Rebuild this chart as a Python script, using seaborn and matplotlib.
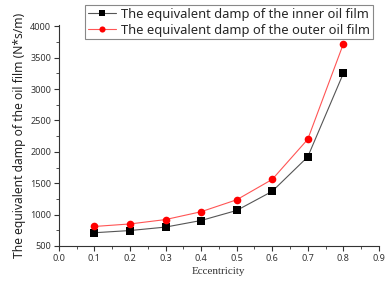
import matplotlib
matplotlib.use('Agg')
import matplotlib.pyplot as plt
from matplotlib.ticker import MultipleLocator
import seaborn as sns
import pandas as pd

# 数据
eccentricity = [0.1, 0.2, 0.3, 0.4, 0.5, 0.6, 0.7, 0.8]
inner_damp = [710, 745, 800, 905, 1065, 1370, 1920, 3250]
outer_damp = [810, 850, 920, 1045, 1235, 1560, 2200, 3720]
inner_name = 'The equivalent damp of the inner oil film'
outer_name = 'The equivalent damp of the outer oil film'

df = pd.DataFrame({
    'Eccentricity': eccentricity * 2,
    'damp': inner_damp + outer_damp,
    'series': [inner_name] * len(eccentricity) + [outer_name] * len(eccentricity),
})

sns.set_style('ticks')
plt.rcParams['font.family'] = ['Noto Sans', 'DejaVu Sans']

fig = plt.figure(figsize=(3.87, 2.82), dpi=100)
ax = fig.add_axes([0.152, 0.128, 0.827, 0.785])

sns.lineplot(data=df, x='Eccentricity', y='damp', hue='series', style='series',
             palette={inner_name: '#000000', outer_name: '#ff0000'},
             markers={inner_name: 's', outer_name: 'o'}, dashes=False,
             markersize=5.5, markeredgewidth=0, linewidth=0.8, ax=ax)
# 线条颜色稍浅
for line, c in zip(ax.lines[:2], ['#555555', '#ff5555']):
    line.set_color(c)
    line.set_markerfacecolor('#000000' if c == '#555555' else '#ff0000')

ax.set_xlim(0, 0.9)
ax.set_ylim(500, 4030)
ax.xaxis.set_major_locator(MultipleLocator(0.1))
ax.xaxis.set_minor_locator(MultipleLocator(0.05))
ax.yaxis.set_major_locator(MultipleLocator(500))
ax.yaxis.set_minor_locator(MultipleLocator(250))
ax.tick_params(axis='both', which='major', direction='out', length=3.5, width=0.8, labelsize=6.5, colors='#333333', pad=2)
ax.tick_params(axis='both', which='minor', direction='out', length=2, width=0.6, colors='#333333')
ax.set_xticklabels(['%.1f' % v for v in ax.get_xticks()])
sns.despine(ax=ax)
for sp in ['left', 'bottom']:
    ax.spines[sp].set_linewidth(0.8)
    ax.spines[sp].set_color('#333333')

ax.set_xlabel('Eccentricity', fontsize=8, family=['Liberation Serif', 'DejaVu Serif'], color='#333333', labelpad=3)
ax.set_ylabel('The equivalent damp of the oil film (N*s/m)', fontsize=8.7, color='#222222', labelpad=3)

leg = ax.legend(loc='upper left', bbox_to_anchor=(85 / 387, 1 - 5 / 282), bbox_transform=fig.transFigure,
                fontsize=9.3, frameon=True, fancybox=False, edgecolor='#888888', framealpha=1,
                borderpad=0.2, labelspacing=0.25, handlelength=2.2, handletextpad=0.4, borderaxespad=0,
                markerscale=0.8)
leg.get_frame().set_linewidth(0.8)
for h, c in zip(leg.legend_handles, ['#555555', '#ff5555']):
    h.set_color(c)
    h.set_markerfacecolor('#000000' if c == '#555555' else '#ff0000')

plt.savefig('out.png', dpi=100)
